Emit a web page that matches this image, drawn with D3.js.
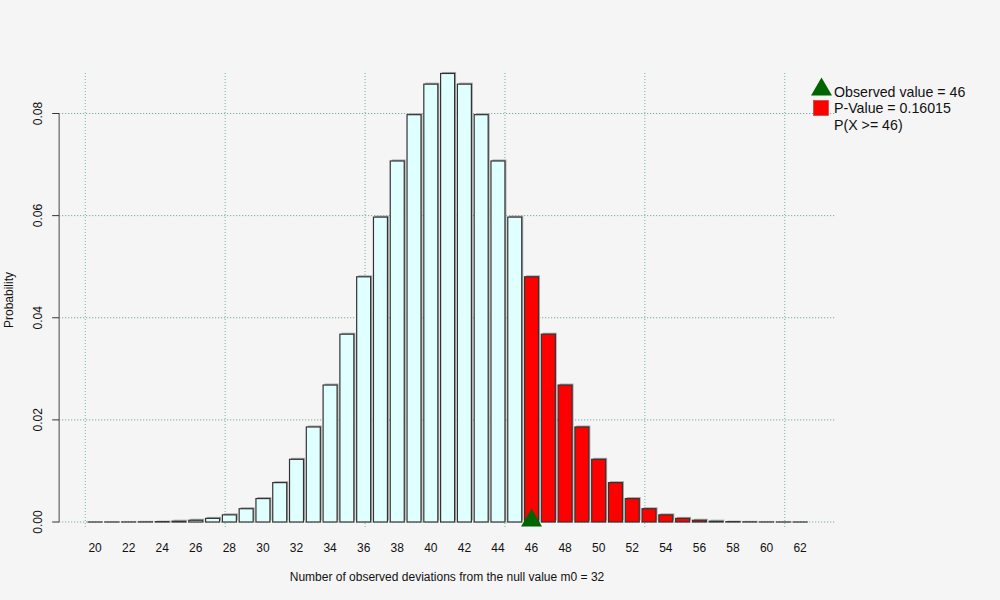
<!DOCTYPE html>
<html>
<head>
<meta charset="utf-8">
<script src="https://cdn.jsdelivr.net/npm/d3@7"></script>
<style>
  html, body { margin: 0; padding: 0; background: #f5f5f5; }
  svg { display: block; font-family: "Liberation Sans", Arial, sans-serif; }
</style>
</head>
<body>
<svg id="chart" width="1000" height="600"></svg>
<script>
// ---- data ----
const categories = [20,21,22,23,24,25,26,27,28,29,30,31,32,33,34,35,36,37,38,39,40,41,42,43,44,45,46,47,48,49,50,51,52,53,54,55,56,57,58,59,60,61,62];
const probabilities = [0.000001,0.000004,0.00001,0.00003,0.00007,0.00016,0.00034,0.00071,0.00140,0.00260,0.00459,0.00771,0.01228,0.01861,0.02682,0.03678,0.04802,0.05971,0.07070,0.07977,0.08575,0.08784,0.08575,0.07977,0.07070,0.05971,0.04802,0.03678,0.02682,0.01861,0.01228,0.00771,0.00459,0.00260,0.00140,0.00071,0.00034,0.00016,0.00007,0.00003,0.00001,0.000004,0.000001];
const observedValue = 46;
const pValueText = "P-Value = 0.16015";
const yTicks = [0, 0.02, 0.04, 0.06, 0.08];
const xLabels = [20,22,24,26,28,30,32,34,36,38,40,42,44,46,48,50,52,54,56,58,60,62];
const xGridUnits = [0, 10, 20, 30, 40, 50];
const legendLines = ["Observed value = 46", pValueText, "P(X >= 46)"];

// ---- layout ----
const svg = d3.select("#chart");
const plotLeft = 59.2, plotRight = 836, plotTop = 73, plotBottom = 527;
const nBars = categories.length;
const uMin = 0.2 - 0.04 * (1.2 * nBars), uMax = 0.2 + 1.2 * nBars + 0.04 * (1.2 * nBars) - 0.2;
const x = d3.scaleLinear().domain([uMin, uMax]).range([plotLeft, plotRight]);
const y = d3.scaleLinear().domain([0, 0.08]).range([522, 113.5]);
const barLeft = i => x(0.2 + 1.2 * i);
const barRight = i => x(1.2 + 1.2 * i);
const barCenter = i => x(0.7 + 1.2 * i);
const idx = v => categories.indexOf(v);

// grid
const gGrid = svg.append("g");
gGrid.selectAll("line.h").data(yTicks).join("line")
  .attr("x1", plotLeft).attr("x2", plotRight)
  .attr("y1", d => y(d)).attr("y2", d => y(d))
  .attr("stroke", "#5f9f80").attr("stroke-width", 1).attr("stroke-dasharray", "1,2");
gGrid.selectAll("line.v").data(xGridUnits).join("line")
  .attr("x1", d => x(d)).attr("x2", d => x(d))
  .attr("y1", plotTop).attr("y2", plotBottom)
  .attr("stroke", "#70b892").attr("stroke-width", 1).attr("stroke-dasharray", "1,2");

// bars
const data = categories.map((c, i) => ({ c, p: probabilities[i], i }));
const gBars = svg.append("g");
gBars.selectAll("rect.shadow").data(data).join("rect")
  .attr("x", d => barLeft(d.i) + 1.5)
  .attr("y", d => y(d.p) - 1.5)
  .attr("width", d => barRight(d.i) - barLeft(d.i))
  .attr("height", d => y(0) - y(d.p))
  .attr("fill", "#aaaaaa");
gBars.selectAll("rect.bar").data(data).join("rect")
  .attr("x", d => barLeft(d.i))
  .attr("y", d => y(d.p))
  .attr("width", d => barRight(d.i) - barLeft(d.i))
  .attr("height", d => y(0) - y(d.p))
  .attr("fill", d => d.c >= observedValue ? "#ff0000" : "#e0ffff")
  .attr("stroke", "#333333").attr("stroke-width", 1.2);

// y axis
const gY = svg.append("g");
gY.append("line").attr("x1", plotLeft).attr("x2", plotLeft)
  .attr("y1", y(0)).attr("y2", y(0.08))
  .attr("stroke", "#888").attr("stroke-width", 1.6);
gY.selectAll("line.tick").data(yTicks).join("line")
  .attr("x1", plotLeft - 7).attr("x2", plotLeft)
  .attr("y1", d => y(d)).attr("y2", d => y(d))
  .attr("stroke", "#333").attr("stroke-width", 1);
gY.selectAll("text").data(yTicks).join("text")
  .attr("transform", d => `translate(42,${y(d)}) rotate(-90)`)
  .attr("text-anchor", "middle")
  .attr("font-size", 12).attr("fill", "#111")
  .text(d => d.toFixed(2));

svg.append("text")
  .attr("transform", `translate(13,300) rotate(-90)`)
  .attr("text-anchor", "middle").attr("font-size", 12).attr("fill", "#111")
  .text("Probability");

// x labels
svg.append("g").selectAll("text").data(xLabels).join("text")
  .attr("x", d => barCenter(idx(d)))
  .attr("y", 552)
  .attr("text-anchor", "middle").attr("font-size", 12).attr("fill", "#111")
  .text(d => d);

svg.append("text")
  .attr("x", 447).attr("y", 581)
  .attr("text-anchor", "middle").attr("font-size", 12).attr("fill", "#111")
  .text("Number of observed deviations from the null value m0 = 32");

// observed marker
const tri = d3.symbol().type(d3.symbolTriangle).size(190);
svg.append("path")
  .attr("d", tri())
  .attr("transform", `translate(${barCenter(idx(observedValue))},${520.5})`)
  .attr("fill", "#006400");

// legend
svg.append("path")
  .attr("d", tri())
  .attr("transform", `translate(821.5,89.5)`)
  .attr("fill", "#006400");
svg.append("rect")
  .attr("x", 813.5).attr("y", 100.5).attr("width", 15).attr("height", 15)
  .attr("fill", "#ff0000").attr("stroke", "#cc3333").attr("stroke-width", 0.6);
svg.append("g").selectAll("text").data(legendLines).join("text")
  .attr("x", 834).attr("y", (d, i) => 96.5 + i * 16.7)
  .attr("font-size", 14.2).attr("fill", "#111")
  .text(d => d);
</script>
</body>
</html>
